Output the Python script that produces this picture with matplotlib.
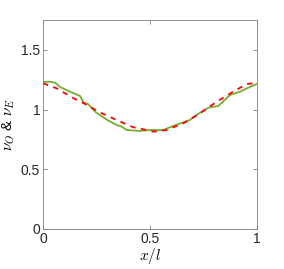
import matplotlib
matplotlib.use("Agg")
import matplotlib.pyplot as plt

# green solid curve (nu_O)
x_o = [0, 0.03, 0.056, 0.079, 0.126, 0.173, 0.19, 0.21, 0.243, 0.3, 0.344, 0.368,
       0.391, 0.453, 0.5, 0.562, 0.609, 0.687, 0.718, 0.773, 0.819, 0.874, 0.921,
       0.967, 1.0]
nu_o = [1.231, 1.233, 1.226, 1.19, 1.15, 1.114, 1.058, 1.047, 0.983, 0.913, 0.871, 0.857,
        0.829, 0.821, 0.829, 0.829, 0.863, 0.913, 0.955, 1.016, 1.03, 1.122, 1.15,
        1.19, 1.214]

# red dashed curve (nu_E)
x_e = [0, 0.064, 0.142, 0.19, 0.266, 0.344, 0.422, 0.485, 0.516, 0.578, 0.656,
       0.734, 0.812, 0.889, 0.952, 0.983, 1.0]
nu_e = [1.22, 1.178, 1.095, 1.053, 0.977, 0.913, 0.852, 0.829, 0.815, 0.829, 0.885,
        0.969, 1.066, 1.15, 1.214, 1.22, 1.206]

plt.rcParams['font.family'] = ['Liberation Sans', 'DejaVu Sans']
plt.rcParams['mathtext.fontset'] = 'cm'

fig = plt.figure(figsize=(2.84, 2.69), dpi=100)
ax = fig.add_axes([43/284, 1 - 229/269, 214/284, 209/269])

ax.plot(x_o, nu_o, color=(0.466, 0.674, 0.188), lw=1.3)
ax.plot(x_e, nu_e, 'r--', lw=1.3, dashes=(3, 3))

ax.set_xlim(0, 1)
ax.set_ylim(0, 1.75)
ax.set_xticks([0, 0.5, 1])
ax.set_xticklabels(['0', '0.5', '1'])
ax.set_yticks([0, 0.5, 1, 1.5])
ax.set_yticklabels(['0', '0.5', '1', '1.5'])
ax.tick_params(direction='in', top=True, right=True, length=3, width=0.6,
               labelsize=10, labelcolor=(0.15, 0.15, 0.15), pad=2,
               color=(0.5, 0.5, 0.5))
for s in ax.spines.values():
    s.set_color((0.5, 0.5, 0.5))
    s.set_linewidth(0.6)

ax.set_xlabel(r'$x/l$', fontsize=11, labelpad=0)
ax.set_ylabel(r'$\nu_O$ & $\nu_E$', fontsize=11, labelpad=3)

fig.savefig('out.png', dpi=100)
